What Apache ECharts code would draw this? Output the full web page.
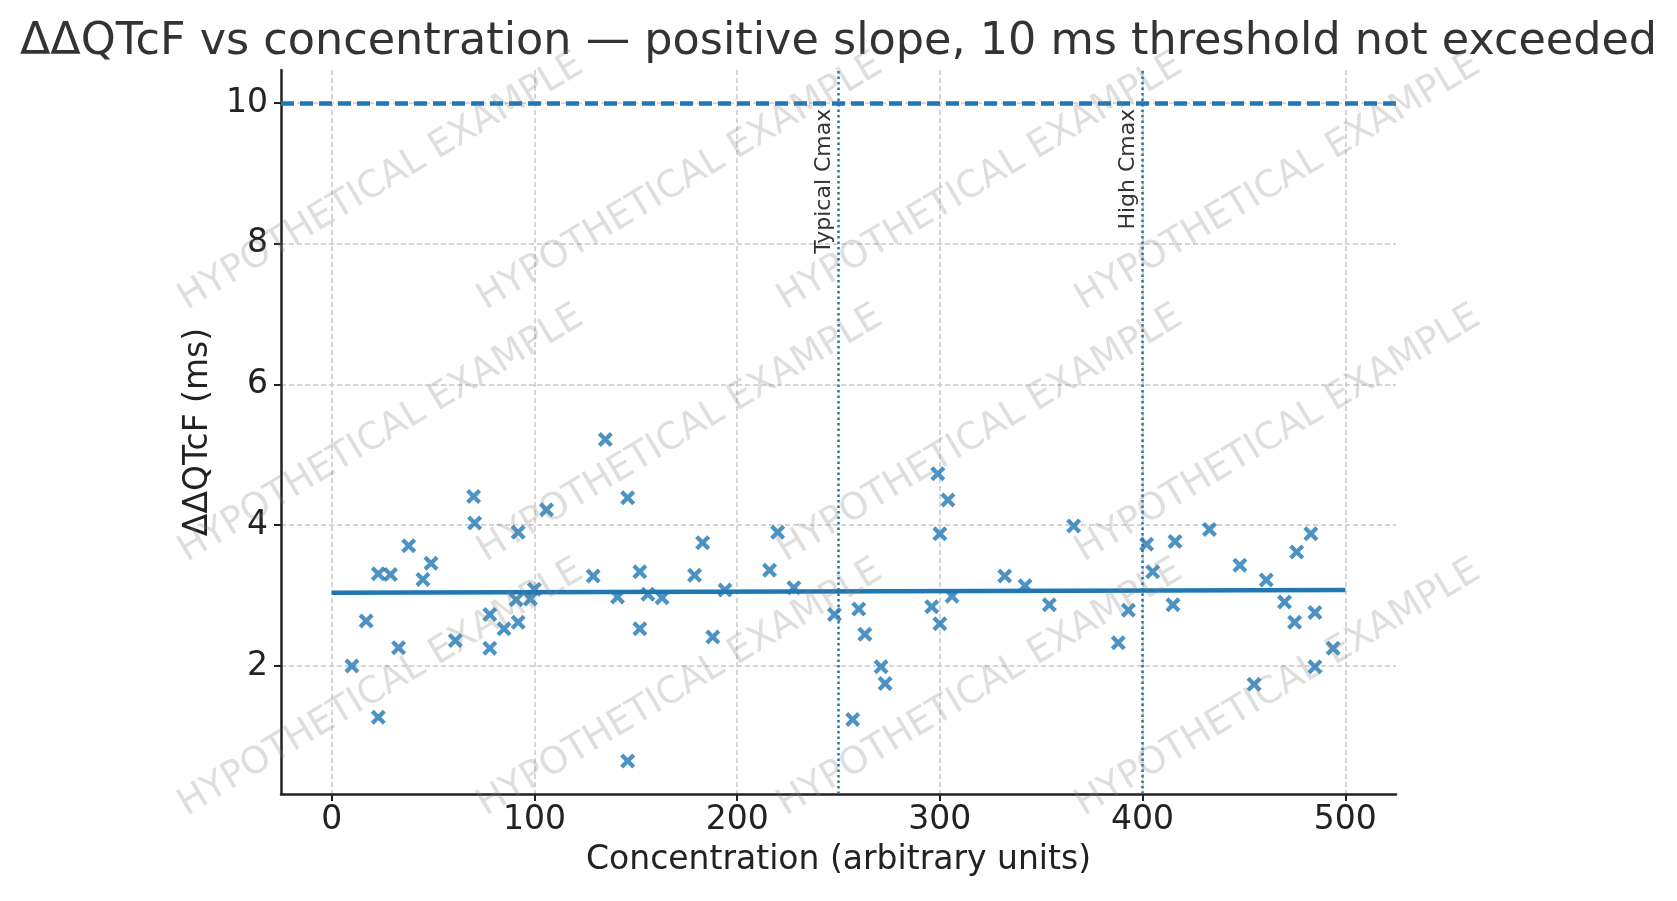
<!DOCTYPE html>
<html lang="en">
<head>
<meta charset="UTF-8">
<title>ΔΔQTcF vs concentration</title>
<script src="https://cdn.jsdelivr.net/npm/echarts@6/dist/echarts.min.js"></script>
<style>
  html, body { margin: 0; padding: 0; background: #fff; }
  #chart { width: 1677px; height: 901px; }
</style>
</head>
<body>
<div id="chart"></div>
<script>
// concentration (arbitrary units) and ΔΔQTcF (ms)
const concX = [10, 17, 23, 23, 29, 33, 38, 45, 49, 61,
               70, 70.5, 78, 78, 85, 92, 91, 92, 98, 100,
               106, 129, 135, 141, 146, 146, 152, 152, 156, 163,
               179, 183, 188, 194, 216, 220, 228, 248, 257, 260,
               263, 271, 273, 296, 299, 300, 300, 304, 306, 332,
               342, 354, 366, 388, 393, 402, 405, 415, 416, 433,
               448, 455, 461, 470, 475, 476, 483, 485, 485, 494];
const ddqtcf = [2.00, 2.64, 1.27, 3.31, 3.30, 2.26, 3.71, 3.23, 3.46, 2.36,
                4.41, 4.03, 2.73, 2.25, 2.53, 3.90, 2.94, 2.62, 2.95, 3.09,
                4.22, 3.28, 5.22, 2.98, 4.39, 0.65, 3.34, 2.53, 3.02, 2.97,
                3.29, 3.75, 2.41, 3.08, 3.36, 3.90, 3.11, 2.73, 1.24, 2.81,
                2.45, 1.99, 1.75, 2.84, 4.73, 3.88, 2.60, 4.36, 2.99, 3.28,
                3.14, 2.87, 3.99, 2.33, 2.79, 3.73, 3.34, 2.87, 3.77, 3.94,
                3.43, 1.74, 3.22, 2.91, 2.62, 3.62, 3.88, 2.76, 1.99, 2.25];

// fitted line end points
const fitX = [0, 500];
const fitY = [3.04, 3.08];

const threshold = 10;
const cmaxX = [250, 400];
const cmaxLabels = ['Typical Cmax', 'High Cmax'];
const labelY = 9.92;

const xTicks = [0, 100, 200, 300, 400, 500];
const yTicks = [2, 4, 6, 8, 10];
const xRange = [-25, 525];
const yRange = [0.18, 10.47];

const FONT = 'DejaVu Sans';
const BLUE = '#1f77b4';
const INK = '#222';
// filled "x" marker like matplotlib's
const X_MARK = 'path://M2,0L5,3L8,0L10,2L7,5L10,8L8,10L5,7L2,10L0,8L3,5L0,2Z';

const chart = echarts.init(document.getElementById('chart'));

function axisBase(ticks) {
    return {
        type: 'value',
        axisLine: { show: true, onZero: false, lineStyle: { color: INK, width: 2.5 } },
        axisTick: { show: true, customValues: ticks, length: 7, lineStyle: { color: INK, width: 2 } },
        axisLabel: { customValues: ticks, fontSize: 33, color: INK, fontFamily: FONT },
        splitLine: { show: true, lineStyle: { color: '#c8c8c8', width: 1.5, type: [5, 3] } },
        nameLocation: 'middle',
        nameTextStyle: { fontSize: 33, color: INK, fontFamily: FONT }
    };
}

const xAxis = axisBase(xTicks);
xAxis.min = xRange[0];
xAxis.max = xRange[1];
xAxis.name = 'Concentration (arbitrary units)';
xAxis.nameGap = 50;
xAxis.axisLabel.margin = 10;

const yAxis = axisBase(yTicks);
yAxis.min = yRange[0];
yAxis.max = yRange[1];
yAxis.name = 'ΔΔQTcF (ms)';
yAxis.nameGap = 64;
yAxis.axisLabel.margin = 13;

const markData = [
    { yAxis: threshold, lineStyle: { color: BLUE, width: 4.5, type: [13, 6] } }
];
cmaxX.forEach(x => {
    markData.push({ xAxis: x, lineStyle: { color: BLUE, width: 2.5, type: [2.5, 3] } });
});

chart.setOption({
    animation: false,
    backgroundColor: '#fff',
    title: {
        text: 'ΔΔQTcF vs concentration — positive slope, 10 ms threshold not exceeded',
        left: 'center',
        top: 15,
        textStyle: { fontSize: 44.5, fontWeight: 'normal', color: '#333', fontFamily: FONT }
    },
    grid: { left: 281, right: 281, top: 70, bottom: 107 },
    xAxis: xAxis,
    yAxis: yAxis,
    series: [
        {
            type: 'line',
            data: fitX.map((x, i) => [x, fitY[i]]),
            showSymbol: false,
            lineStyle: { color: BLUE, width: 4.5 },
            z: 3,
            markLine: {
                silent: true,
                symbol: ['none', 'none'],
                label: { show: false },
                data: markData
            }
        },
        {
            type: 'scatter',
            data: concX.map((x, i) => [x, ddqtcf[i]]),
            symbol: X_MARK,
            symbolSize: 15,
            itemStyle: { color: BLUE, opacity: 0.8 },
            z: 4
        }
    ]
});

// cmax labels, placed through the axes
const graphics = [];
cmaxX.forEach((x, i) => {
    const p = chart.convertToPixel({ gridIndex: 0 }, [x, labelY]);
    graphics.push({
        type: 'text',
        x: p[0] - 3,
        y: p[1],
        rotation: Math.PI / 2,
        silent: true,
        z: 10,
        style: {
            text: cmaxLabels[i],
            fontSize: 22,
            fontFamily: FONT,
            fill: '#333',
            align: 'right',
            verticalAlign: 'bottom'
        }
    });
});

// watermark grid
const wmX = [381, 680, 980, 1278];
const wmY = [182, 434, 688];
wmY.forEach(y => {
    wmX.forEach(x => {
        graphics.push({
            type: 'text',
            x: x,
            y: y,
            rotation: 31 * Math.PI / 180,
            silent: true,
            z: 20,
            style: {
                text: 'HYPOTHETICAL EXAMPLE',
                fontSize: 37,
                fontFamily: FONT,
                fill: 'rgba(128,128,128,0.26)',
                align: 'center',
                verticalAlign: 'middle'
            }
        });
    });
});

chart.setOption({ graphic: graphics });
</script>
</body>
</html>
